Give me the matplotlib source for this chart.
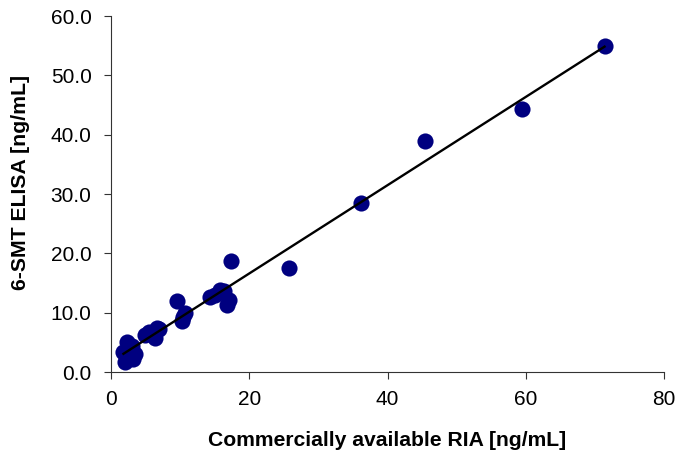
import numpy as np
import matplotlib
matplotlib.use("Agg")
import matplotlib.pyplot as plt

ria = [1.8, 2.0, 2.3, 3.0, 3.2, 3.5, 4.9, 5.5, 6.4, 6.6, 7.0, 9.5, 10.2, 10.45,
       10.7, 14.3, 15.0, 15.75, 16.3, 16.8, 17.0, 17.3, 25.8, 36.1, 45.4, 59.4, 71.4]
elisa = [3.3, 1.7, 5.0, 4.3, 2.2, 3.0, 6.2, 6.7, 5.8, 7.4, 7.2, 12.0, 8.6, 9.3,
         9.9, 12.7, 13.0, 13.8, 13.6, 11.3, 12.2, 18.7, 17.6, 28.4, 39.0, 44.4, 54.9]

xticks = [0, 20, 40, 60, 80]
yticks = [0, 10, 20, 30, 40, 50, 60]

plt.rcParams['font.family'] = ['Liberation Sans', 'DejaVu Sans']

fig = plt.figure(figsize=(6.81, 4.57), dpi=100)
ax = fig.add_axes([111/681, 1 - 372/457, (664-111)/681, (372-16)/457])

x = np.array(ria)
y = np.array(elisa)
ax.scatter(x, y, s=135, color='#000080', zorder=2, linewidths=0)
slope, inter = np.polyfit(x, y, 1)
xl = np.array([x.min(), x.max()])
ax.plot(xl, slope * xl + inter, color='black', lw=1.7, zorder=3)

ax.set_xlim(0, 80)
ax.set_ylim(0, 60)
ax.set_xticks(xticks)
ax.set_yticks(yticks)
ax.set_xticklabels([str(t) for t in xticks])
ax.set_yticklabels([f"{t:.1f}" for t in yticks])
for s in ['top', 'right']:
    ax.spines[s].set_visible(False)
for s in ['left', 'bottom']:
    ax.spines[s].set_linewidth(0.8)
    ax.spines[s].set_color('#333333')
ax.tick_params(direction='out', length=5, width=0.8, labelsize=15, colors='#333333',
               labelcolor='black')
ax.tick_params(axis='y', pad=9)
ax.tick_params(axis='x', pad=8)
ax.set_xlabel('Commercially available RIA [ng/mL]', fontsize=15.2, fontweight='bold', labelpad=16)
ax.set_ylabel('6-SMT ELISA [ng/mL]', fontsize=15.3, fontweight='bold')
ax.yaxis.set_label_coords(-0.147, 0.532)

fig.savefig('out.png', dpi=100)
